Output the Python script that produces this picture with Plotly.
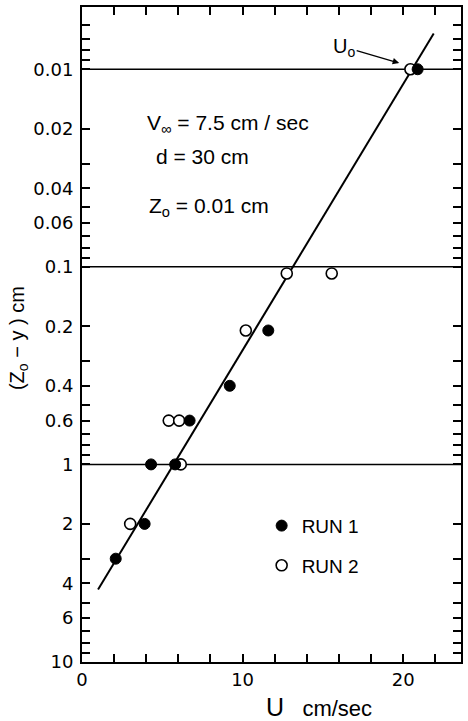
import math
import plotly.graph_objects as go

# ---- data ----
run1_u = [2.1, 3.9, 4.3, 5.8, 6.7, 9.2, 11.6, 20.9]
run1_z = [3.0, 2.0, 1.0, 1.0, 0.6, 0.4, 0.21, 0.01]

run2_u = [3.0, 5.4, 6.05, 6.15, 10.2, 12.75, 15.55, 20.45]
run2_z = [2.0, 0.6, 0.6, 1.0, 0.21, 0.108, 0.108, 0.01]

fit_u = [1.0, 21.9]
fit_z = [4.3, 0.0066]

ref_levels = [0.01, 0.1, 1]

x_label_vals = [0, 10, 20]
x_label_text = ["0", "10", "20"]
x_minor_vals = [2, 4, 6, 8, 12, 14, 16, 18, 22]

y_label_vals = [0.01, 0.02, 0.04, 0.06, 0.1, 0.2, 0.4, 0.6, 1, 2, 4, 6, 10]
y_label_text = ["0.01", "0.02", "0.04", "0.06", "0.1", "0.2", "0.4", "0.6",
                "1", "2", "4", "6", "10"]
y_minor_vals = [0.006, 0.007, 0.008, 0.009, 0.03, 0.05, 0.07, 0.08, 0.09,
                0.3, 0.5, 0.7, 0.8, 0.9, 3, 5, 7, 8, 9]

FONT = "Liberation Sans"
TICKFONT = "DejaVu Sans"

fig = go.Figure()

fig.add_trace(go.Scatter(
    x=fit_u, y=fit_z, mode="lines",
    line=dict(color="black", width=2), showlegend=False, hoverinfo="skip"))

fig.add_trace(go.Scatter(
    x=run2_u, y=run2_z, mode="markers", name="RUN 2", legendgroup="b",
    legendrank=2,
    marker=dict(symbol="circle", size=11, color="white",
                line=dict(color="black", width=1.6))))

fig.add_trace(go.Scatter(
    x=run1_u, y=run1_z, mode="markers", name="RUN 1", legendgroup="a",
    legendrank=1,
    marker=dict(symbol="circle", size=11, color="black",
                line=dict(color="black", width=1))))

for lv in ref_levels:
    fig.add_shape(type="line", xref="paper", x0=0, x1=1, yref="y", y0=lv, y1=lv,
                  line=dict(color="black", width=1.5), layer="below")

axis_common = dict(
    ticks="inside", ticklen=8, tickwidth=1.5, tickcolor="black",
    showline=True, linewidth=2, linecolor="black", mirror="allticks",
    showgrid=False, zeroline=False,
    tickfont=dict(family=TICKFONT, size=18, color="black"),
)
minor_common = dict(ticks="inside", ticklen=8, tickwidth=1.5,
                    tickcolor="black", showgrid=False)

fig.update_xaxes(range=[0, 23.6], tickmode="array", tickvals=x_label_vals,
                 ticktext=x_label_text, ticklabelstandoff=0,
                 minor=dict(tickmode="array", tickvals=x_minor_vals, **minor_common),
                 **axis_common)
fig.update_yaxes(type="log", range=[1, -2.315], tickmode="array",
                 tickvals=y_label_vals, ticktext=y_label_text,
                 ticklabelstandoff=3,
                 minor=dict(tickmode="array", tickvals=y_minor_vals, **minor_common),
                 **axis_common)

L = math.log10  # annotations on a log axis are positioned in log units

annots = [
    dict(x=3.9, y=0.019, text="V<sub>∞</sub> = 7.5 cm / sec"),
    dict(x=4.5, y=0.0278, text="d = 30 cm"),
    dict(x=4.04, y=0.0498, text="Z<sub>o</sub> = 0.01 cm"),
]
for a in annots:
    fig.add_annotation(x=a["x"], y=L(a["y"]), xref="x", yref="y", text=a["text"],
                       xanchor="left", yanchor="middle", showarrow=False,
                       font=dict(family=FONT, size=21, color="black"))

# U0 label with arrow
fig.add_annotation(x=19.75, y=L(0.0093), xref="x", yref="y",
                   text="U<sub>o</sub>", showarrow=True, ax=-55, ay=-16,
                   arrowhead=2, arrowsize=1, arrowwidth=1.3, arrowcolor="black",
                   font=dict(family=FONT, size=20, color="black"))

# axis titles
fig.add_annotation(x=-0.168, y=0.495, xref="paper", yref="paper",
                   text="(Z<sub>o</sub> − y ) cm", textangle=-90, showarrow=False,
                   xanchor="center", yanchor="middle",
                   font=dict(family=FONT, size=20, color="black"))
fig.add_annotation(x=0.626, y=-0.0685, xref="paper", yref="paper",
                   text="<span style='font-size:25px'>U</span>   cm/sec",
                   showarrow=False, xanchor="center", yanchor="middle",
                   font=dict(family=FONT, size=22, color="black"))

fig.update_layout(
    width=468, height=721,
    margin=dict(l=82, r=6, t=5, b=59),
    paper_bgcolor="white", plot_bgcolor="white",
    showlegend=True,
    legend=dict(x=0.474, y=0.237, xanchor="left", yanchor="top",
                traceorder="grouped", tracegroupgap=12,
                font=dict(family=FONT, size=19, color="black"),
                bgcolor="rgba(0,0,0,0)", borderwidth=0),
)

fig.write_html("out.html",
               config={"displayModeBar": False},
               post_script="document.body.style.margin='0px';")
